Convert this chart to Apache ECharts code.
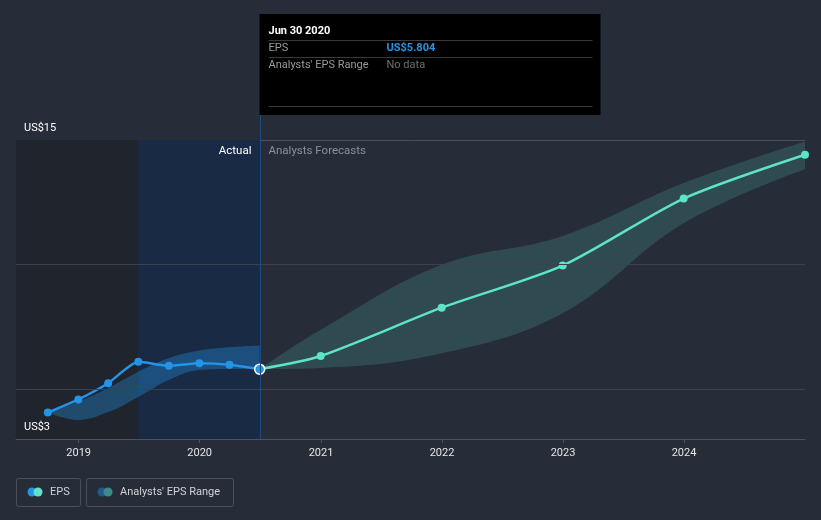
<!DOCTYPE html>
<html><head><meta charset="utf-8">
<script src="https://cdn.jsdelivr.net/npm/echarts@6/dist/echarts.min.js"></script>
<style>html,body{margin:0;padding:0;background:#262c38;}#c{width:821px;height:520px;}</style>
</head><body><div id="c"></div>
<script>
// ---- data ----
const actualDates = ['2018-09-30','2018-12-31','2019-03-31','2019-06-30','2019-09-30','2019-12-31','2020-03-31','2020-06-30'];
const actualEps = [4.06, 4.59, 5.24, 6.10, 5.94, 6.04, 5.98, 5.804];
const actualRangeLow = [4.06, 3.76, 4.08, 4.69, 5.37, 5.77, 5.81, 5.81];
const actualRangeHigh = [4.06, 4.50, 5.05, 5.70, 6.24, 6.55, 6.68, 6.75];
const forecastDates = ['2020-06-30','2020-12-31','2021-12-31','2022-12-31','2023-12-31','2024-12-31'];
const forecastEps = [5.804, 6.33, 8.27, 9.96, 12.65, 14.41];
const forecastLow = [5.804, 5.85, 6.44, 8.05, 11.66, 13.83];
const forecastHigh = [5.804, 7.38, 9.99, 11.15, 13.27, 14.94];
const xRange = ['2018-06-26','2024-12-31'];
const yMin = 3, yMax = 15;
const yTickLabels = [3, 15];
const yGridValues = [5, 10];
const pastShadeStart = '2018-06-26', highlightStart = '2019-06-30';
const tooltipDate = 'Jun 30 2020';

// ---- helpers ----
function t(s){ const p = s.split('-').map(Number); return new Date(p[0], p[1]-1, p[2]).getTime(); }
function pairs(ds, vs){ return ds.map((d,i)=>[t(d), vs[i]]); }
function diffPairs(ds, hi, lo){ return ds.map((d,i)=>[t(d), +(hi[i]-lo[i]).toFixed(4)]); }

const BLUE = '#2394e6', TEAL = '#5de4c7';
const FONT = 'Roboto, "Noto Sans", sans-serif';
const DAY = 24*3600*1000;

const actualData = pairs(actualDates, actualEps).map((p,i,arr)=> i === arr.length-1
  ? {value: p, symbolSize: 10, itemStyle: {color: BLUE, borderColor: '#ffffff', borderWidth: 1.5}}
  : p);
const forecastData = pairs(forecastDates, forecastEps).map((p,i)=> i === 0
  ? {value: p, symbolSize: 0}
  : p);

const option = {
  animation: false,
  backgroundColor: '#262c38',
  textStyle: {fontFamily: FONT},
  grid: {left: 16, right: 16, top: 140, bottom: 81, containLabel: false, outerBoundsMode: 'none'},
  xAxis: {
    type: 'time', min: t(xRange[0]), max: t(xRange[1]),
    minInterval: 365*DAY, maxInterval: 366*DAY,
    axisLine: {show: true, lineStyle: {color: '#4c525e', width: 1}},
    axisTick: {show: true, length: 4, lineStyle: {color: '#4c525e'}},
    axisLabel: {show: true, color: '#e6e6e6', fontSize: 11, fontFamily: FONT, margin: 9,
      showMinLabel: false, showMaxLabel: false,
      formatter: v => String(new Date(v).getFullYear())},
    splitLine: {show: false}
  },
  yAxis: {
    type: 'value', min: yMin, max: yMax, interval: yMax - yMin,
    axisLine: {show: false}, axisTick: {show: false},
    axisLabel: {show: false},
    splitLine: {show: true, lineStyle: {color: '#4a505b', width: 1}}
  },
  series: [
    { // background shading + grid lines
      type: 'line', data: [], z: 1, silent: true,
      markArea: {silent: true, data: [
        [{xAxis: t(pastShadeStart), itemStyle: {color: '#20242c'}}, {xAxis: t(highlightStart)}],
        [{xAxis: t(highlightStart), itemStyle: {color: '#192a45'}}, {xAxis: t(actualDates[actualDates.length-1])}]
      ]},
      markLine: {silent: true, symbol: 'none', label: {show: false},
        lineStyle: {color: '#3b414d', type: 'solid', width: 1},
        data: yGridValues.map(v => ({yAxis: v}))}
    },
    {type: 'line', name: 'actualLow', stack: 'ar', data: pairs(actualDates, actualRangeLow), smooth: 0.4,
      symbol: 'none', lineStyle: {opacity: 0}, z: 2, silent: true},
    {type: 'line', name: 'actualBand', stack: 'ar', data: diffPairs(actualDates, actualRangeHigh, actualRangeLow), smooth: 0.4,
      symbol: 'none', lineStyle: {opacity: 0}, areaStyle: {color: 'rgba(35,148,230,0.5)'}, z: 2, silent: true},
    {type: 'line', name: 'fcLow', stack: 'fr', data: pairs(forecastDates, forecastLow), smooth: 0.4,
      symbol: 'none', lineStyle: {opacity: 0}, z: 2, silent: true},
    {type: 'line', name: 'fcBand', stack: 'fr', data: diffPairs(forecastDates, forecastHigh, forecastLow), smooth: 0.4,
      symbol: 'none', lineStyle: {opacity: 0}, areaStyle: {color: 'rgba(93,228,199,0.24)'}, z: 2, silent: true},
    {type: 'line', name: 'Forecast EPS', data: forecastData, smooth: 0.25,
      symbol: 'circle', symbolSize: 8, itemStyle: {color: TEAL}, lineStyle: {color: TEAL, width: 2.5}, z: 3},
    {type: 'line', name: 'EPS', data: actualData, smooth: 0.2,
      symbol: 'circle', symbolSize: 8, itemStyle: {color: BLUE}, lineStyle: {color: BLUE, width: 2.5}, z: 4}
  ]
};

const chart = echarts.init(document.getElementById('c'), null, {renderer: 'canvas'});
chart.setOption(option);

const splitX = Math.round(chart.convertToPixel({xAxisIndex: 0}, t(actualDates[actualDates.length-1]))) + 0.5;
const topY = chart.convertToPixel({yAxisIndex: 0}, yMax);
const botY = chart.convertToPixel({yAxisIndex: 0}, yMin);
const leftX = chart.convertToPixel({xAxisIndex: 0}, t(xRange[0]));
const lastEps = actualEps[actualEps.length-1];

const boxX = splitX - 1, boxY = 14, boxW = 341, boxH = 101;
const g = [];
// y-axis labels
yTickLabels.forEach(v => {
  const py = chart.convertToPixel({yAxisIndex: 0}, v);
  g.push({type: 'text', z: 50, x: leftX + 8, y: py - 12, style: {text: 'US$' + v, fill: '#ffffff', font: '11px ' + FONT, verticalAlign: 'middle'}});
});
g.push({type: 'line', z: 50, shape: {x1: splitX, y1: boxY + boxH, x2: splitX, y2: botY}, style: {stroke: '#1f4a80', lineWidth: 1}});
g.push({type: 'text', z: 50, x: splitX - 9, y: topY + 11, style: {text: 'Actual', fill: '#ffffff', font: '11.5px ' + FONT, align: 'right', verticalAlign: 'middle'}});
g.push({type: 'text', z: 50, x: splitX + 8, y: topY + 11, style: {text: 'Analysts Forecasts', fill: '#8c9099', font: '11.5px ' + FONT, align: 'left', verticalAlign: 'middle'}});
g.push({type: 'rect', z: 60, shape: {x: boxX, y: boxY, width: boxW, height: boxH}, style: {fill: '#000000'}});
const tx = boxX + 9, vx = boxX + 127, lx2 = boxX + boxW - 8;
g.push({type: 'text', z: 61, x: tx, y: 31, style: {text: tooltipDate, fill: '#ffffff', font: 'bold 11px ' + FONT, verticalAlign: 'middle'}});
[40, 57, 106].forEach(yy => g.push({type: 'line', z: 61, shape: {x1: tx, y1: yy + 0.5, x2: lx2, y2: yy + 0.5}, style: {stroke: '#3a3a3a', lineWidth: 1}}));
g.push({type: 'text', z: 61, x: tx, y: 48, style: {text: 'EPS', fill: '#9a9a9a', font: '11px ' + FONT, verticalAlign: 'middle'}});
g.push({type: 'text', z: 61, x: vx, y: 48, style: {text: 'US$' + lastEps.toFixed(3), fill: BLUE, font: 'bold 11px ' + FONT, verticalAlign: 'middle'}});
g.push({type: 'text', z: 61, x: tx, y: 65, style: {text: "Analysts' EPS Range", fill: '#9a9a9a', font: '11px ' + FONT, verticalAlign: 'middle'}});
g.push({type: 'text', z: 61, x: vx, y: 65, style: {text: 'No data', fill: '#6e6e6e', font: '11px ' + FONT, verticalAlign: 'middle'}});
function legendItem(x, w, c1, c2, label){
  g.push({type: 'rect', z: 50, shape: {x: x + 0.5, y: 478.5, width: w, height: 28, r: 2}, style: {fill: 'none', stroke: '#4a505c', lineWidth: 1}});
  g.push({type: 'circle', z: 51, shape: {cx: x + 16, cy: 492, r: 4.5}, style: {fill: c1}});
  g.push({type: 'circle', z: 52, shape: {cx: x + 22, cy: 492, r: 4.5}, style: {fill: c2}});
  g.push({type: 'text', z: 51, x: x + 34, y: 492.5, style: {text: label, fill: '#d0d2d6', font: '11px ' + FONT, verticalAlign: 'middle'}});
}
legendItem(16, 64, BLUE, TEAL, 'EPS');
legendItem(86, 147, '#1f5a8a', '#3d8a88', "Analysts' EPS Range");
chart.setOption({graphic: g});
</script>
</body></html>
